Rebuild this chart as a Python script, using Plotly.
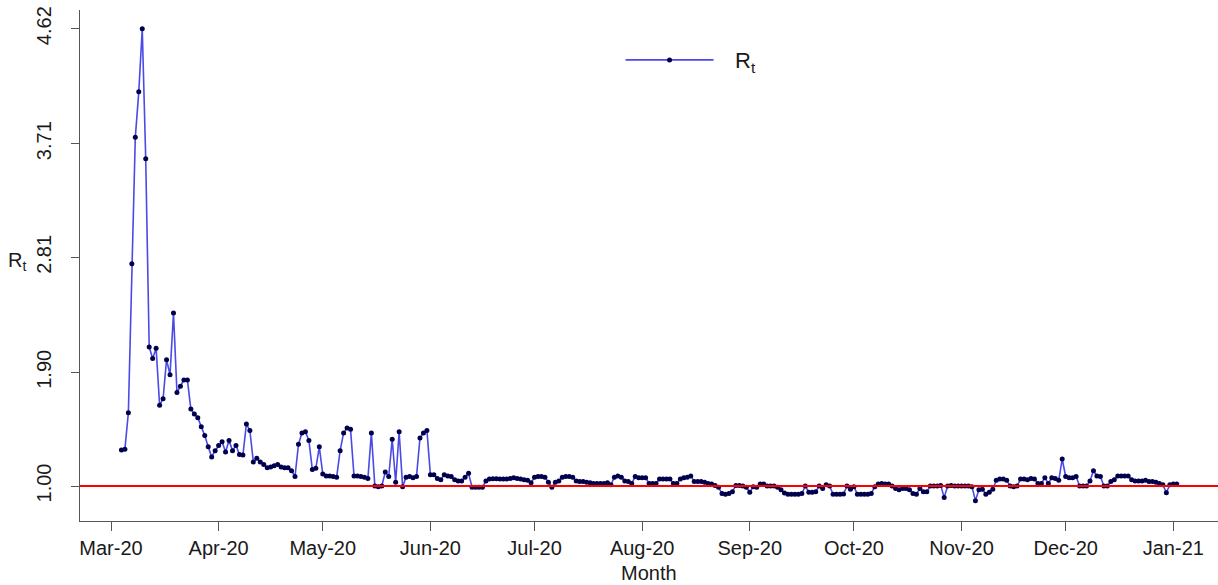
import pandas as pd
import plotly.graph_objects as go

# daily Rt estimates, first value is 4 March 2020
start_date = "2020-03-04"

rt_mar_apr = [1.285, 1.29, 1.58, 2.76, 3.76, 4.12, 4.62, 3.59, 2.10, 2.01,
              2.09, 1.64, 1.69, 2.00, 1.88, 2.37, 1.74, 1.79, 1.84, 1.84,
              1.61, 1.57, 1.54, 1.47, 1.40, 1.31, 1.23, 1.28, 1.32, 1.35,
              1.27, 1.36, 1.28, 1.32, 1.25, 1.245, 1.49, 1.44, 1.19, 1.22,
              1.19, 1.17, 1.145, 1.15, 1.16, 1.17]
rt_apr_jun = [1.15, 1.145, 1.145, 1.12, 1.075, 1.33, 1.42, 1.43, 1.36, 1.13,
              1.14, 1.31, 1.095, 1.08, 1.08, 1.075, 1.07, 1.28, 1.42, 1.46,
              1.45, 1.08, 1.08, 1.075, 1.07, 1.06, 1.42, 1.0, 0.995, 1.0,
              1.11, 1.075, 1.37, 1.03, 1.43, 0.995, 1.07, 1.075, 1.065, 1.075,
              1.38, 1.42, 1.44, 1.09, 1.09, 1.06, 1.05, 1.09, 1.08, 1.075,
              1.05, 1.04, 1.04, 1.07, 1.10]
rt_jun_aug = [0.99, 0.99, 0.99, 0.99, 1.04, 1.055,
              1.058, 1.058, 1.055, 1.055, 1.055, 1.06, 1.065, 1.06, 1.055, 1.05,
              1.045, 1.025, 1.07, 1.075, 1.075, 1.07, 1.03, 0.99,
              1.03, 1.04, 1.07, 1.075, 1.075, 1.07, 1.04, 1.035, 1.035, 1.03,
              1.025, 1.02, 1.02, 1.02, 1.02, 1.025, 1.01,
              1.07, 1.08, 1.07, 1.04, 1.035, 1.02, 1.075, 1.065, 1.065, 1.065,
              1.02, 1.02, 1.02, 1.055, 1.055, 1.055, 1.055, 1.02, 1.02,
              1.055, 1.065, 1.07, 1.08, 1.035, 1.035, 1.035, 1.03,
              1.02, 1.015, 1.005, 0.99]
rt_aug_nov = [0.94, 0.935, 0.94, 0.955,
              1.005, 1.005, 1.0, 0.99, 0.95, 0.995, 0.99,
              1.015, 1.015, 1.0, 1.0, 1.0, 0.99, 0.97, 0.945, 0.935, 0.935, 0.935, 0.935, 0.94,
              1.0, 0.95, 0.95, 0.955, 1.0, 0.98, 1.01, 1.0, 0.935, 0.935, 0.935, 0.937,
              1.0, 0.975, 0.995, 0.935, 0.935, 0.935, 0.935, 0.94,
              0.995, 1.015, 1.02, 1.015, 1.015, 1.0, 0.98, 0.97, 0.98, 0.98, 0.97, 0.94, 0.935,
              0.98, 0.955, 0.955, 1.0, 1.0, 1.0, 1.005, 0.91, 1.0, 1.005, 1.0, 1.0, 1.0, 1.0,
              1.0, 0.995]
rt_nov_jan = [0.884,
              0.97, 0.975, 0.935, 0.95, 0.975,
              1.045, 1.055, 1.055, 1.045, 1.0, 0.995, 1.0,
              1.055, 1.055, 1.05, 1.06, 1.055, 1.02, 1.02, 1.065, 1.02, 1.065, 1.06, 1.045,
              1.213, 1.075, 1.065, 1.065, 1.075, 1.0, 1.0, 1.0, 1.04, 1.12, 1.08, 1.075,
              1.0, 1.0, 1.035, 1.05, 1.08, 1.08, 1.08, 1.08, 1.05, 1.04, 1.04, 1.04,
              1.045, 1.035, 1.035, 1.03, 1.02, 1.01, 0.947, 1.01, 1.015, 1.015]

y_ticks = [1.00, 1.90, 2.81, 3.71, 4.62]
y_tick_labels = ["1.00", "1.90", "2.81", "3.71", "4.62"]
threshold = 1.0

rt = rt_mar_apr + rt_apr_jun + rt_jun_aug + rt_aug_nov + rt_nov_jan
dates = pd.date_range(start_date, periods=len(rt), freq="D")

font = "Liberation Sans, Arial, sans-serif"
ink = "#1a1a1a"

fig = go.Figure()
fig.add_trace(go.Scatter(
    x=dates, y=rt, mode="lines+markers", name="\u2002\u2005R<sub>t</sub>",
    line=dict(color="#4a4ae6", width=1.6),
    marker=dict(color="#00004d", size=5),
))
fig.add_hline(y=threshold, line=dict(color="#ff0000", width=2))

# axis titles as annotations so their place is fixed
fig.add_annotation(
    text="R<sub>t</sub>", xref="paper", yref="paper", x=-0.055, y=0.507,
    xanchor="center", yanchor="middle", showarrow=False,
    font=dict(family=font, size=20, color=ink),
)
fig.add_annotation(
    text="Month", xref="paper", yref="paper", x=0.5, y=-0.102,
    xanchor="center", yanchor="middle", showarrow=False,
    font=dict(family=font, size=20, color=ink),
)

fig.update_layout(
    width=1218, height=585, autosize=False,
    margin=dict(l=80, r=0, t=10, b=64),
    plot_bgcolor="white", paper_bgcolor="white",
    font=dict(family=font, size=20, color=ink),
    showlegend=True,
    legend=dict(x=0.475, y=0.902, xanchor="left", yanchor="middle",
                bgcolor="rgba(0,0,0,0)", itemwidth=88,
                font=dict(family=font, size=22, color=ink)),
    xaxis=dict(
        range=["2020-02-21 01:40", "2021-01-13 21:00"],
        tickformat="%b-%y", dtick="M1", tick0="2020-03-01",
        ticks="outside", ticklen=9, tickcolor="#555",
        showline=True, linecolor="#555", linewidth=1,
        showgrid=False, zeroline=False, automargin=False,
        tickfont=dict(size=20),
    ),
    yaxis=dict(
        range=[0.723, 4.768],
        tickvals=y_ticks, ticktext=y_tick_labels, tickangle=-90,
        ticks="outside", ticklen=8, tickcolor="#555",
        showline=True, linecolor="#555", linewidth=1,
        showgrid=False, zeroline=False, automargin=False,
        ticklabelstandoff=12,
        tickfont=dict(size=20),
    ),
)

# the page's default body margin would push the figure 8px off the corner
fig.write_html("out.html", config={"displayModeBar": False},
               post_script="document.body.style.margin = '0';")
